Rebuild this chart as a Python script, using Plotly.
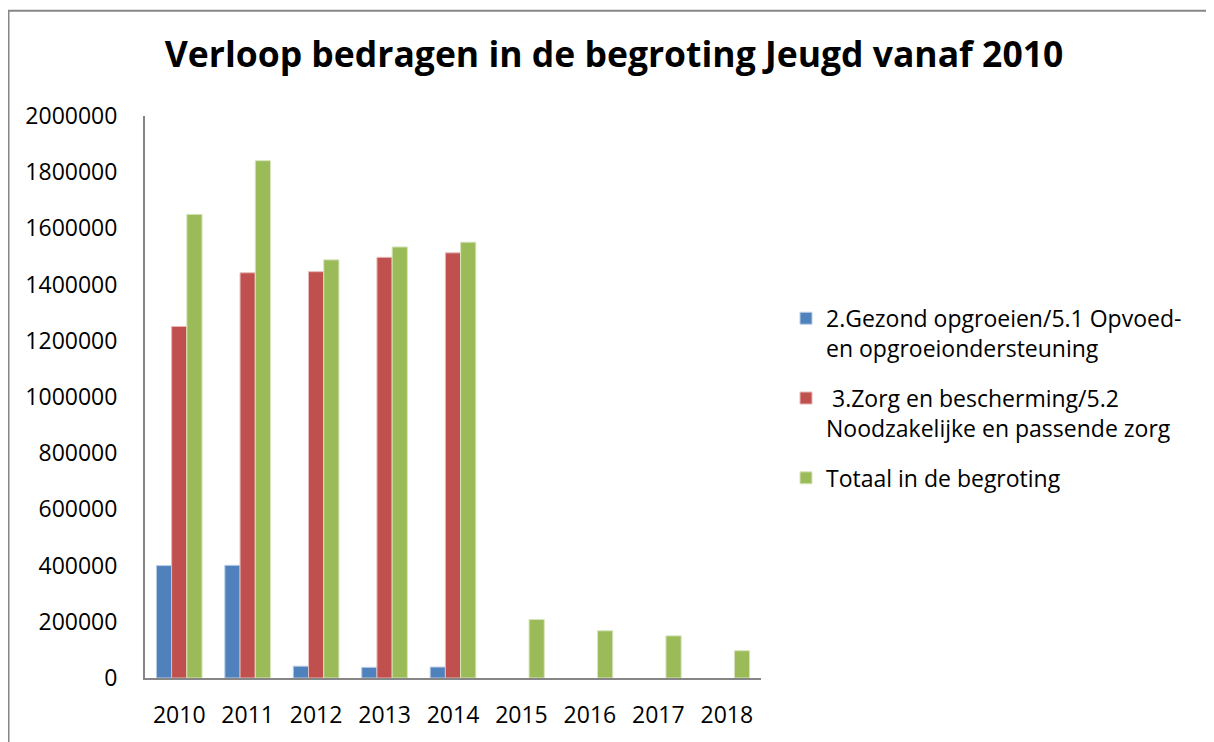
import plotly.graph_objects as go

years = ["2010", "2011", "2012", "2013", "2014", "2015", "2016", "2017", "2018"]
gezond = [400000, 401000, 42000, 38000, 39000, None, None, None, None]
zorg = [1251000, 1442000, 1446000, 1497000, 1513000, None, None, None, None]
totaal = [1650000, 1841000, 1488000, 1534000, 1551000, 208000, 168000, 150000, 97000]

names = [
    "2.Gezond opgroeien/5.1 Opvoed-<br>en opgroeiondersteuning",
    " 3.Zorg en bescherming/5.2<br>Noodzakelijke en passende zorg",
    "Totaal in de begroting",
]
colors = ["#4F81BD", "#C0504D", "#9BBB59"]
edges = ["#B9CDE5", "#E6B9B8", "#D7E4BD"]

FONT = "Open Sans"

fig = go.Figure()
for i, (vals, nm) in enumerate(zip([gezond, zorg, totaal], names)):
    fig.add_trace(go.Bar(
        x=years, y=vals, name=nm, legendgroup=f"g{i}",
        marker=dict(color=colors[i], line=dict(color=edges[i], width=1)),
    ))

# page body has an 8px margin; figure origin sits at (8, 8)
W, H = 1206, 734
L, R, T, B = 137, 453, 108, 54
pw, ph = W - L - R, H - T - B

fig.update_layout(
    width=W, height=H,
    margin=dict(l=L, r=R, t=T, b=B, pad=0),
    paper_bgcolor="white", plot_bgcolor="white",
    barmode="group", bargap=0.333, bargroupgap=0,
    font=dict(family=FONT, size=23, color="black"),
    title=dict(
        text="<b>Verloop bedragen in de begroting Jeugd vanaf 2010</b>",
        font=dict(family=FONT, size=35.5, color="black"),
        x=606 / W, xanchor="center", y=1 - 47 / H, yanchor="middle",
    ),
    legend=dict(
        x=(778 - L) / pw, xanchor="left", y=1 - (292 - T) / ph, yanchor="top",
        font=dict(family=FONT, size=23, color="black"),
        tracegroupgap=17, valign="top", bgcolor="rgba(0,0,0,0)",
    ),
    showlegend=True,
)
fig.update_xaxes(
    type="category", showline=True, linecolor="#868686", linewidth=2,
    showgrid=False, ticks="", ticklabelstandoff=15, zeroline=False,
)
fig.update_yaxes(
    range=[0, 2000000], dtick=200000, tickformat="d", showline=True,
    linecolor="#868686", linewidth=2, showgrid=False, zeroline=False,
    ticks="", ticklabelstandoff=21,
)
# outer chart border (partially cropped in reference)
fig.add_shape(
    type="rect", xref="paper", yref="paper",
    x0=(0.5 - L) / pw, x1=(W + 20 - L) / pw,
    y0=1 + (T - 1) / ph, y1=-(B + 20) / ph,
    line=dict(color="#868686", width=2), fillcolor="rgba(0,0,0,0)", layer="below",
)
fig.write_html("out.html")
